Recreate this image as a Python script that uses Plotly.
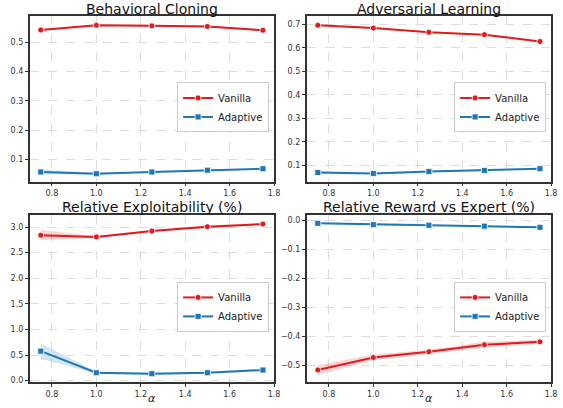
import plotly.graph_objects as go

# alpha values on the x axis
alpha = [0.75, 1.0, 1.25, 1.5, 1.75]

# Behavioral Cloning
bc_vanilla = [0.542, 0.558, 0.556, 0.554, 0.541]
bc_vanilla_err = [0.003, 0.002, 0.004, 0.003, 0.002]
bc_adaptive = [0.058, 0.052, 0.058, 0.064, 0.069]
bc_adaptive_err = [0.008, 0.003, 0.002, 0.002, 0.002]

# Adversarial Learning
al_vanilla = [0.696, 0.684, 0.666, 0.656, 0.627]
al_vanilla_err = [0.004, 0.002, 0.002, 0.002, 0.002]
al_adaptive = [0.069, 0.065, 0.073, 0.078, 0.085]
al_adaptive_err = [0.006, 0.003, 0.002, 0.002, 0.002]

# Relative Exploitability (%)
expl_vanilla = [2.84, 2.806, 2.922, 3.006, 3.058]
expl_vanilla_err = [0.10, 0.02, 0.02, 0.03, 0.02]
expl_adaptive = [0.576, 0.155, 0.136, 0.155, 0.207]
expl_adaptive_err = [0.15, 0.02, 0.02, 0.02, 0.02]

# Relative Reward vs Expert (%)
rew_vanilla = [-0.517, -0.474, -0.454, -0.430, -0.420]
rew_vanilla_err = [0.017, 0.010, 0.007, 0.010, 0.007]
rew_adaptive = [-0.0114, -0.016, -0.018, -0.021, -0.025]
rew_adaptive_err = [0.002, 0.002, 0.002, 0.002, 0.002]

titles = ["Behavioral Cloning", "Adversarial Learning",
          "Relative Exploitability (%)", "Relative Reward vs Expert (%)"]
x_ticks = [0.8, 1.0, 1.2, 1.4, 1.6, 1.8]

RED = "#e31a1c"
BLUE = "#1f77b4"
RED_FILL = "rgba(227,26,28,0.18)"
BLUE_FILL = "rgba(31,119,180,0.2)"

W, H = 563, 408
# panel boxes in pixels: (left, right, top, bottom)
boxes = [(30, 277, 16, 183), (310, 557, 16, 183),
         (30, 277, 217, 385), (310, 557, 217, 385)]
# top edge of each title's text box, in pixels
title_tops = [0, 0, 199, 199]
y_ranges = [[0.025, 0.59], [0.03, 0.736], [-0.03, 3.227], [-0.559, 0.016]]
y_ticks = [[0.1, 0.2, 0.3, 0.4, 0.5],
           [0.1, 0.2, 0.3, 0.4, 0.5, 0.6, 0.7],
           [0.0, 0.5, 1.0, 1.5, 2.0, 2.5, 3.0],
           [-0.5, -0.4, -0.3, -0.2, -0.1, 0.0]]

panels = [
    (bc_vanilla, bc_vanilla_err, bc_adaptive, bc_adaptive_err),
    (al_vanilla, al_vanilla_err, al_adaptive, al_adaptive_err),
    (expl_vanilla, expl_vanilla_err, expl_adaptive, expl_adaptive_err),
    (rew_vanilla, rew_vanilla_err, rew_adaptive, rew_adaptive_err),
]

fig = go.Figure()
layout = dict(width=W, height=H, margin=dict(l=0, r=0, t=0, b=0),
              paper_bgcolor="white", plot_bgcolor="white",
              font=dict(family="DejaVu Sans", color="#262626"),
              annotations=[])


def band(x, y, e, fill, xa, ya):
    upper = [v + d for v, d in zip(y, e)]
    lower = [v - d for v, d in zip(y, e)]
    return go.Scatter(x=list(x) + list(x)[::-1], y=upper + lower[::-1],
                      fill="toself", fillcolor=fill, line=dict(width=0),
                      mode="lines", hoverinfo="skip", showlegend=False,
                      xaxis=xa, yaxis=ya)


for i, (vals, box) in enumerate(zip(panels, boxes)):
    n = i + 1
    xa = "x" if n == 1 else f"x{n}"
    ya = "y" if n == 1 else f"y{n}"
    leg = "legend" if n == 1 else f"legend{n}"
    van, van_e, ada, ada_e = vals

    fig.add_trace(band(alpha, van, van_e, RED_FILL, xa, ya))
    fig.add_trace(band(alpha, ada, ada_e, BLUE_FILL, xa, ya))
    fig.add_trace(go.Scatter(
        x=alpha, y=van, mode="lines+markers", name="Vanilla",
        line=dict(color=RED, width=2),
        marker=dict(symbol="circle", size=6, color=RED,
                    line=dict(color="white", width=0.8)),
        xaxis=xa, yaxis=ya, legend=leg))
    fig.add_trace(go.Scatter(
        x=alpha, y=ada, mode="lines+markers", name="Adaptive",
        line=dict(color=BLUE, width=2),
        marker=dict(symbol="square", size=6, color=BLUE,
                    line=dict(color="white", width=0.8)),
        xaxis=xa, yaxis=ya, legend=leg))

    l, r, t, b = box
    xd = [l / W, r / W]
    yd = [1 - b / H, 1 - t / H]
    axis_common = dict(showline=True, linecolor="#333333", linewidth=1.5,
                       mirror=True, ticks="outside", ticklen=3,
                       tickwidth=1, tickcolor="#333333",
                       showgrid=True, gridcolor="#dddddd", gridwidth=0.8,
                       griddash="dash", zeroline=False,
                       tickfont=dict(size=8, color="#333333"))
    layout["xaxis" if n == 1 else f"xaxis{n}"] = dict(
        domain=xd, range=[0.7, 1.8], tickvals=x_ticks, tickformat=".1f",
        anchor=ya, **axis_common)
    layout["yaxis" if n == 1 else f"yaxis{n}"] = dict(
        domain=yd, range=y_ranges[i], tickvals=y_ticks[i], tickformat=".1f",
        anchor=xa, **axis_common)

    layout[leg] = dict(
        x=(r - 5) / W, y=1 - (t + 67) / H, xanchor="right", yanchor="top",
        bgcolor="rgba(255,255,255,0.85)", bordercolor="#cccccc",
        borderwidth=1, font=dict(size=10, color="#222222"),
        tracegroupgap=0, itemwidth=30)

    layout["annotations"].append(dict(
        text=titles[i], x=(l + r) / 2 / W, y=1 - title_tops[i] / H,
        xref="paper", yref="paper", xanchor="center", yanchor="top",
        borderpad=0, showarrow=False, font=dict(size=14, color="#111111")))
    if n >= 3:
        layout["annotations"].append(dict(
            text="<i>α</i>", x=(l + r) / 2 / W, y=1 - 401 / H,
            xref="paper", yref="paper", xanchor="center", yanchor="middle",
            borderpad=0, showarrow=False,
            font=dict(size=11, color="#222222")))

fig.update_layout(**layout)
fig.write_html("out.html")
